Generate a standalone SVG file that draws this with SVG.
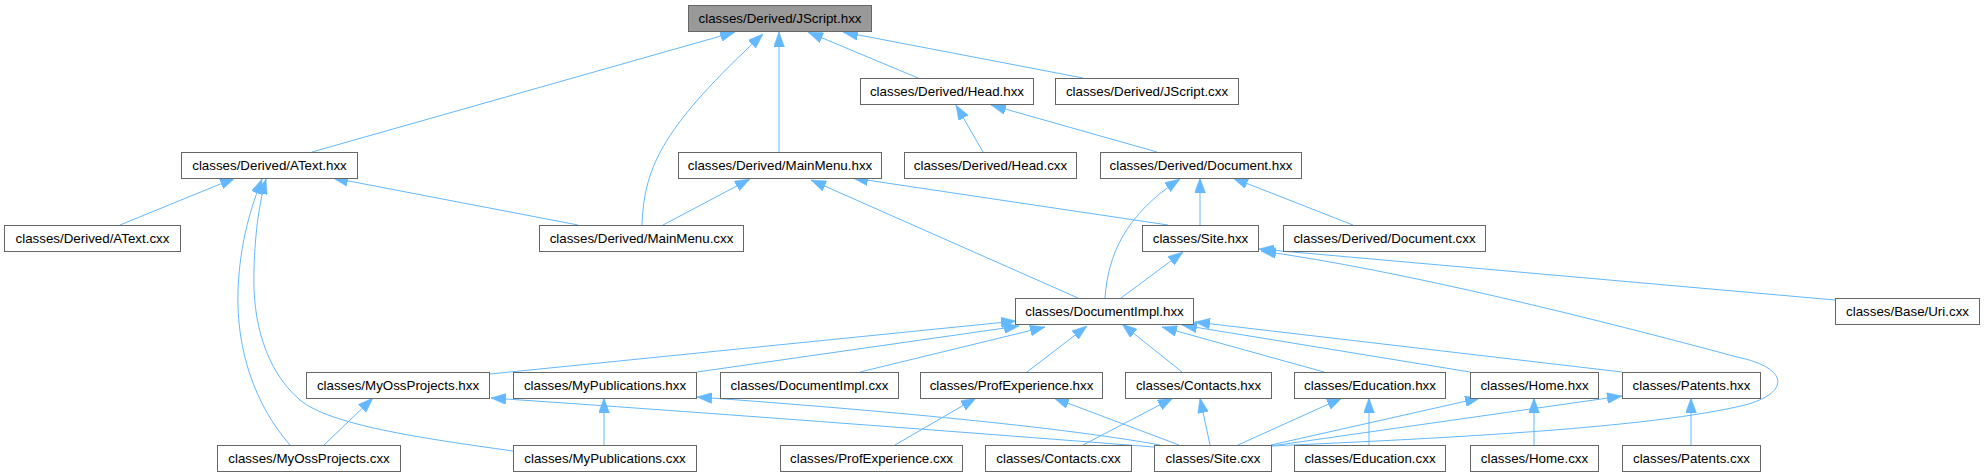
<svg xmlns="http://www.w3.org/2000/svg" width="1985" height="476" viewBox="0 0 1985 476">
<style>
.n rect{fill:#ffffff;stroke:#666666;stroke-width:1}
.n.cur rect{fill:#999999}
.n text{font-family:"Liberation Sans",Arial,sans-serif;font-size:13.33px;fill:#000000;text-anchor:middle}
.e path{fill:none;stroke:#63b8ff;stroke-width:1;marker-end:url(#ah)}
</style>
<defs>
<marker id="ah" markerUnits="userSpaceOnUse" markerWidth="15" markerHeight="11" viewBox="0 0 15 11" refX="15" refY="5.5" orient="auto">
<path d="M0,0 L15,5.5 L0,11 Z" fill="#63b8ff" stroke="#63b8ff" stroke-width="0.5"/>
</marker>
</defs>
<rect x="0" y="0" width="1985" height="476" fill="#ffffff"/>
<g id="edges" class="e">
<path d="M312,152 L735,32"/>
<path d="M642,225 C644,165 665,125 763,34"/>
<path d="M779,152 L779,32"/>
<path d="M918,78 L808,32"/>
<path d="M1083,78 L843,32"/>
<path d="M983,152 L956,105"/>
<path d="M1157,152 L991,105"/>
<path d="M120,225 L235,178"/>
<path d="M578,225 L333,178"/>
<path d="M290,445 C255,405 236,350 238,290 C240,240 252,205 262,179"/>
<path d="M513,451 C420,438 330,425 300,400 C265,370 252,320 254,270 C255,230 260,200 266,179"/>
<path d="M663,225 L750,179"/>
<path d="M1078,298 L811,180"/>
<path d="M1168,225 L853,178"/>
<path d="M1105,298 C1108,255 1125,215 1180,179"/>
<path d="M1200,225 L1200,178"/>
<path d="M1353,225 L1233,178"/>
<path d="M1121,298 L1183,252"/>
<path d="M1835,300 L1259,249"/>
<path d="M1271,446 C1450,438 1650,428 1745,405 C1790,393 1790,368 1737,357 C1600,320 1400,270 1261,251"/>
<path d="M490,374 L1016,321"/>
<path d="M697,372 L1019,326"/>
<path d="M860,372 L1045,327"/>
<path d="M1027,372 L1087,326"/>
<path d="M1182,372 L1122,324"/>
<path d="M1324,372 L1162,327"/>
<path d="M1470,372 L1182,325"/>
<path d="M1622,372 L1195,322"/>
<path d="M324,445 L373,398"/>
<path d="M1154,447 C1000,435 700,412 491,398"/>
<path d="M604,445 L604,398"/>
<path d="M1160,445 C1050,425 850,408 697,397"/>
<path d="M895,445 L976,398"/>
<path d="M1179,445 L1054,398"/>
<path d="M1083,445 L1173,398"/>
<path d="M1210,445 L1200,398"/>
<path d="M1238,445 L1342,398"/>
<path d="M1369,445 L1369,398"/>
<path d="M1271,445 L1480,398"/>
<path d="M1534,445 L1534,398"/>
<path d="M1271,446 L1622,396"/>
<path d="M1691,445 L1691,398"/>
</g>
<g id="jscript_hxx" class="n cur"><rect x="688.5" y="5.5" width="183" height="26"/><text x="780" y="23">classes/Derived/JScript.hxx</text></g>
<g id="head_hxx" class="n"><rect x="860.5" y="78.5" width="173" height="26"/><text x="947" y="96">classes/Derived/Head.hxx</text></g>
<g id="jscript_cxx" class="n"><rect x="1055.5" y="78.5" width="183" height="26"/><text x="1147" y="96">classes/Derived/JScript.cxx</text></g>
<g id="atext_hxx" class="n"><rect x="181.5" y="152.5" width="176" height="26"/><text x="269.5" y="170">classes/Derived/AText.hxx</text></g>
<g id="mainmenu_hxx" class="n"><rect x="678.5" y="152.5" width="203" height="26"/><text x="780" y="170">classes/Derived/MainMenu.hxx</text></g>
<g id="head_cxx" class="n"><rect x="904.5" y="152.5" width="172" height="26"/><text x="990.5" y="170">classes/Derived/Head.cxx</text></g>
<g id="document_hxx" class="n"><rect x="1100.5" y="152.5" width="201" height="26"/><text x="1201" y="170">classes/Derived/Document.hxx</text></g>
<g id="atext_cxx" class="n"><rect x="4.5" y="225.5" width="176" height="26"/><text x="92.5" y="243">classes/Derived/AText.cxx</text></g>
<g id="mainmenu_cxx" class="n"><rect x="539.5" y="225.5" width="204" height="26"/><text x="641.5" y="243">classes/Derived/MainMenu.cxx</text></g>
<g id="site_hxx" class="n"><rect x="1142.5" y="225.5" width="116" height="26"/><text x="1200.5" y="243">classes/Site.hxx</text></g>
<g id="document_cxx" class="n"><rect x="1283.5" y="225.5" width="202" height="26"/><text x="1384.5" y="243">classes/Derived/Document.cxx</text></g>
<g id="documentimpl_hxx" class="n"><rect x="1015.5" y="298.5" width="178" height="26"/><text x="1104.5" y="316">classes/DocumentImpl.hxx</text></g>
<g id="uri_cxx" class="n"><rect x="1835.5" y="298.5" width="144" height="26"/><text x="1907.5" y="316">classes/Base/Uri.cxx</text></g>
<g id="myossprojects_hxx" class="n"><rect x="306.5" y="372.5" width="183" height="26"/><text x="398" y="390">classes/MyOssProjects.hxx</text></g>
<g id="mypublications_hxx" class="n"><rect x="513.5" y="372.5" width="183" height="26"/><text x="605" y="390">classes/MyPublications.hxx</text></g>
<g id="documentimpl_cxx" class="n"><rect x="720.5" y="372.5" width="178" height="26"/><text x="809.5" y="390">classes/DocumentImpl.cxx</text></g>
<g id="profexperience_hxx" class="n"><rect x="920.5" y="372.5" width="182" height="26"/><text x="1011.5" y="390">classes/ProfExperience.hxx</text></g>
<g id="contacts_hxx" class="n"><rect x="1125.5" y="372.5" width="146" height="26"/><text x="1198.5" y="390">classes/Contacts.hxx</text></g>
<g id="education_hxx" class="n"><rect x="1294.5" y="372.5" width="151" height="26"/><text x="1370" y="390">classes/Education.hxx</text></g>
<g id="home_hxx" class="n"><rect x="1470.5" y="372.5" width="128" height="26"/><text x="1534.5" y="390">classes/Home.hxx</text></g>
<g id="patents_hxx" class="n"><rect x="1622.5" y="372.5" width="138" height="26"/><text x="1691.5" y="390">classes/Patents.hxx</text></g>
<g id="myossprojects_cxx" class="n"><rect x="217.5" y="445.5" width="183" height="26"/><text x="309" y="463">classes/MyOssProjects.cxx</text></g>
<g id="mypublications_cxx" class="n"><rect x="513.5" y="445.5" width="183" height="26"/><text x="605" y="463">classes/MyPublications.cxx</text></g>
<g id="profexperience_cxx" class="n"><rect x="780.5" y="445.5" width="182" height="26"/><text x="871.5" y="463">classes/ProfExperience.cxx</text></g>
<g id="contacts_cxx" class="n"><rect x="985.5" y="445.5" width="146" height="26"/><text x="1058.5" y="463">classes/Contacts.cxx</text></g>
<g id="site_cxx" class="n"><rect x="1154.5" y="445.5" width="117" height="26"/><text x="1213" y="463">classes/Site.cxx</text></g>
<g id="education_cxx" class="n"><rect x="1294.5" y="445.5" width="151" height="26"/><text x="1370" y="463">classes/Education.cxx</text></g>
<g id="home_cxx" class="n"><rect x="1470.5" y="445.5" width="128" height="26"/><text x="1534.5" y="463">classes/Home.cxx</text></g>
<g id="patents_cxx" class="n"><rect x="1622.5" y="445.5" width="138" height="26"/><text x="1691.5" y="463">classes/Patents.cxx</text></g>
</svg>
